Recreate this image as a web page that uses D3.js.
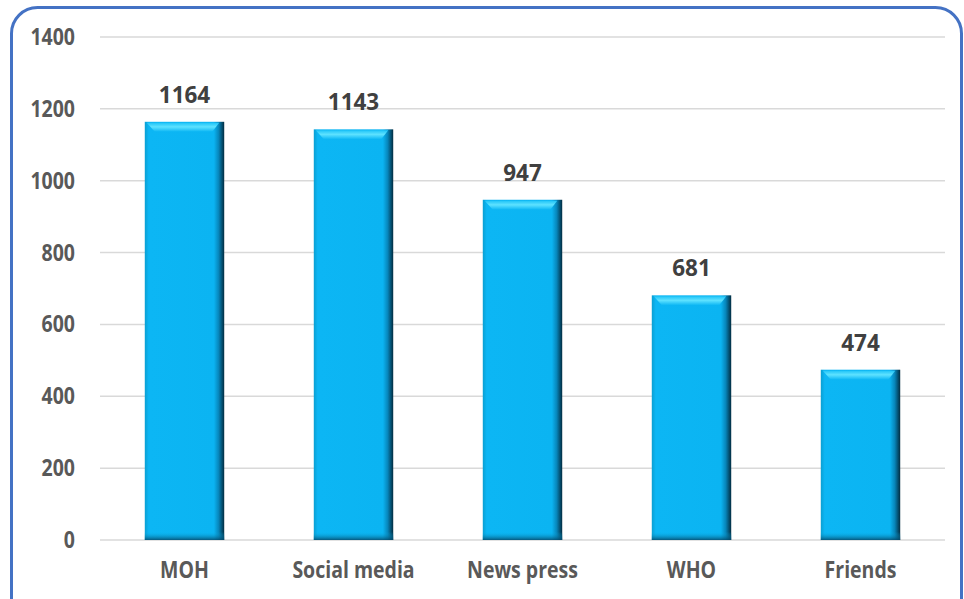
<!DOCTYPE html>
<html><head><meta charset="utf-8">
<script src="https://cdn.jsdelivr.net/npm/d3@7"></script>
<style>body{margin:0;background:#fff;}svg{display:block;}</style>
</head><body>
<svg id="c" width="964" height="599"></svg>
<script>
const categories = ["MOH","Social media","News press","WHO","Friends"];
const values = [1164,1143,947,681,474];
const yTicks = [0,200,400,600,800,1000,1200,1400];

const svg = d3.select("#c");
const font = "'Open Sans', Lato, sans-serif";
const m = {left:100,right:945,top:37,bottom:540};

// border
svg.append("rect").attr("x",11.5).attr("y",7.5).attr("width",950).attr("height",620)
  .attr("rx",26).attr("fill","#fff").attr("stroke","#4472C4").attr("stroke-width",3);

const x = d3.scaleBand().domain(categories).range([m.left,m.right]).paddingInner(0.53).paddingOuter(0.265);
const y = d3.scaleLinear().domain([0,1400]).range([m.bottom,m.top]);

const defs = svg.append("defs");
const gH = defs.append("linearGradient").attr("id","gh").attr("x1",0).attr("x2",1).attr("y1",0).attr("y2",0);
gH.append("stop").attr("offset","0").attr("stop-color","#0a9fd2");
gH.append("stop").attr("offset","0.05").attr("stop-color","#0cb6f4");
gH.append("stop").attr("offset","0.87").attr("stop-color","#0bb4f2");
gH.append("stop").attr("offset","0.93").attr("stop-color","#0786bb");
gH.append("stop").attr("offset","1").attr("stop-color","#022c40");
const gT = defs.append("linearGradient").attr("id","gt").attr("x1",0).attr("x2",0).attr("y1",0).attr("y2",1);
gT.append("stop").attr("offset","0").attr("stop-color","#20c4f8");
gT.append("stop").attr("offset","0.45").attr("stop-color","#5ee2ff");
gT.append("stop").attr("offset","1").attr("stop-color","#0cb6f4");
const gB = defs.append("linearGradient").attr("id","gb").attr("x1",0).attr("x2",0).attr("y1",0).attr("y2",1);
gB.append("stop").attr("offset","0").attr("stop-color","#0bb0e8").attr("stop-opacity",0);
gB.append("stop").attr("offset","1").attr("stop-color","#04486a").attr("stop-opacity",0.85);

// gridlines
svg.append("g").selectAll("line").data(yTicks).join("line")
  .attr("x1",m.left).attr("x2",m.right).attr("y1",d=>y(d)).attr("y2",d=>y(d))
  .attr("stroke","#d9d9d9").attr("stroke-width",1.5);

// y labels
svg.append("g").selectAll("text").data(yTicks).join("text")
  .attr("transform",d=>`translate(75,${y(d)+8}) scale(1,1.18)`).attr("text-anchor","end")
  .attr("font-family",font).attr("font-weight","bold").attr("font-size",19.5).attr("fill","#595959")
  .text(d=>d);

// bars
const bars = svg.append("g").selectAll("g").data(categories).join("g");
bars.append("rect").attr("x",d=>x(d)).attr("y",(d,i)=>y(values[i])).attr("width",x.bandwidth())
  .attr("height",(d,i)=>y(0)-y(values[i])).attr("fill","url(#gh)");
bars.append("path").attr("d",(d,i)=>{
    const x0=x(d), w=x.bandwidth(), t=y(values[i]);
    return `M${x0+2},${t+1}L${x0+w-5},${t+1}L${x0+w-12},${t+10}L${x0+10},${t+10}Z`;
  }).attr("fill","url(#gt)");
bars.append("rect").attr("x",d=>x(d)).attr("y",(d,i)=>y(0)-8).attr("width",x.bandwidth())
  .attr("height",8).attr("fill","url(#gb)");

// value labels
svg.append("g").selectAll("text").data(categories).join("text")
  .attr("transform",(d,i)=>`translate(${x(d)+x.bandwidth()/2},${y(values[i])-19}) scale(1,1.05)`)
  .attr("text-anchor","middle").attr("font-family",font).attr("font-weight","bold")
  .attr("font-size",22.5).attr("fill","#404040").text((d,i)=>values[i]);

// x labels
svg.append("g").selectAll("text").data(categories).join("text")
  .attr("transform",d=>`translate(${x(d)+x.bandwidth()/2},578) scale(1,1.15)`)
  .attr("text-anchor","middle").attr("font-family",font).attr("font-weight","bold")
  .attr("font-size",19.5).attr("fill","#595959").text(d=>d);
</script>
</body></html>
